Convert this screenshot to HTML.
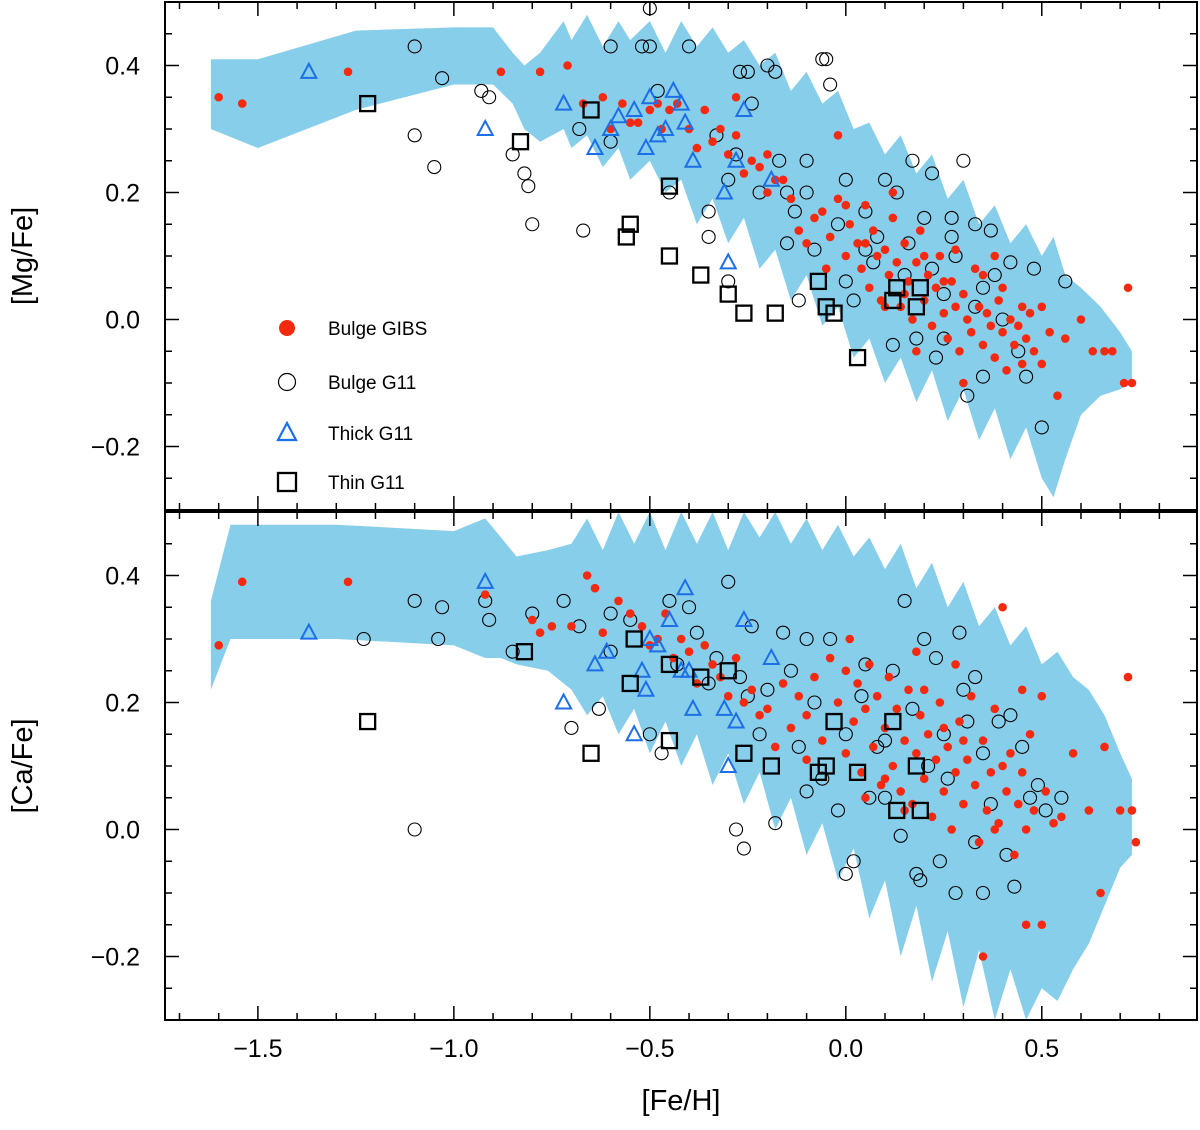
<!DOCTYPE html>
<html><head><meta charset="utf-8"><style>
body{margin:0;background:#fff}
svg{display:block;font-family:"Liberation Sans",sans-serif}
</style></head><body>
<svg id="chart" width="1200" height="1130" viewBox="0 0 1200 1130"></svg>
<script>
// ---- data ----
const xTicks=[-1.5,-1.0,-0.5,0.0,0.5];
const xTickLabels=["\u22121.5","\u22121.0","\u22120.5","0.0","0.5"];
const yTicks=[-0.2,0.0,0.2,0.4];
const yTickLabels=["\u22120.2","0.0","0.2","0.4"];

const bandTopX=[-1.62,-1.5,-1.25,-1.0,-0.9,-0.85,-0.82,-0.78,-0.72,-0.7,-0.66,-0.62,-0.58,-0.55,-0.5,-0.46,-0.42,-0.38,-0.34,-0.3,-0.26,-0.22,-0.18,-0.14,-0.1,-0.06,-0.02,0.02,0.06,0.1,0.14,0.18,0.22,0.26,0.3,0.34,0.38,0.42,0.46,0.5,0.53,0.56,0.6,0.65,0.7,0.73];
const bandTopHi=[0.41,0.41,0.455,0.46,0.46,0.42,0.40,0.42,0.47,0.44,0.48,0.43,0.47,0.44,0.47,0.42,0.47,0.43,0.46,0.42,0.44,0.40,0.42,0.36,0.39,0.34,0.36,0.30,0.31,0.26,0.29,0.23,0.26,0.19,0.22,0.15,0.18,0.12,0.15,0.10,0.13,0.07,0.05,0.02,-0.02,-0.05];
const bandTopLo=[0.30,0.27,0.33,0.37,0.37,0.34,0.30,0.28,0.30,0.27,0.29,0.24,0.27,0.22,0.25,0.20,0.22,0.15,0.19,0.12,0.16,0.08,0.11,0.03,0.07,-0.01,0.02,-0.06,-0.03,-0.10,-0.06,-0.13,-0.08,-0.16,-0.11,-0.19,-0.14,-0.22,-0.17,-0.25,-0.28,-0.22,-0.15,-0.12,-0.11,-0.10];

const bandBotX=[-1.62,-1.57,-1.3,-1.0,-0.92,-0.88,-0.84,-0.76,-0.7,-0.66,-0.62,-0.58,-0.54,-0.5,-0.46,-0.42,-0.38,-0.34,-0.3,-0.26,-0.22,-0.18,-0.14,-0.1,-0.06,-0.02,0.02,0.06,0.1,0.14,0.18,0.22,0.26,0.3,0.34,0.38,0.42,0.46,0.5,0.54,0.58,0.62,0.66,0.7,0.73];
const bandBotHi=[0.36,0.48,0.48,0.47,0.49,0.46,0.43,0.44,0.45,0.49,0.44,0.50,0.45,0.50,0.44,0.50,0.45,0.50,0.44,0.50,0.46,0.50,0.45,0.49,0.44,0.48,0.43,0.46,0.41,0.45,0.38,0.42,0.35,0.39,0.32,0.35,0.29,0.32,0.26,0.28,0.24,0.22,0.18,0.12,0.08];
const bandBotLo=[0.22,0.30,0.30,0.29,0.27,0.27,0.26,0.25,0.22,0.18,0.21,0.15,0.19,0.12,0.17,0.10,0.15,0.07,0.12,0.04,0.09,0.00,0.05,-0.04,0.01,-0.08,-0.03,-0.14,-0.08,-0.20,-0.12,-0.24,-0.16,-0.28,-0.19,-0.30,-0.22,-0.30,-0.25,-0.27,-0.22,-0.18,-0.12,-0.06,-0.04];

const topRedX=[-1.6,-1.54,-1.27,-0.88,-0.78,-0.71,-0.67,-0.62,-0.57,-0.55,-0.53,-0.50,-0.47,-0.45,-0.43,-0.40,-0.38,-0.36,-0.34,-0.32,-0.30,-0.28,-0.26,-0.24,-0.22,-0.20,-0.18,-0.16,-0.14,-0.12,-0.10,-0.08,-0.06,-0.04,-0.02,-0.02,0.00,0.01,0.03,0.04,0.05,0.06,0.07,0.08,0.09,0.10,0.11,0.12,0.13,0.14,0.15,0.16,0.17,0.18,0.19,0.20,0.21,0.22,0.23,0.24,0.25,0.26,0.27,0.28,0.29,0.30,0.31,0.32,0.33,0.34,0.35,0.36,0.37,0.38,0.39,0.40,0.41,0.42,0.43,0.44,0.45,0.46,0.47,0.48,0.50,0.52,0.54,0.56,0.60,0.63,0.66,0.68,0.72,0.73,0.71,0.15,0.20,0.10,0.05,0.25,-0.05,0.00,0.35,0.30,0.40,0.45,-0.20,-0.28,-0.48,-0.60,0.12,0.18,0.28,0.50,0.38];
const topRedY=[0.35,0.34,0.39,0.39,0.39,0.40,0.34,0.35,0.34,0.31,0.31,0.33,0.30,0.33,0.34,0.30,0.27,0.33,0.28,0.30,0.26,0.29,0.23,0.25,0.24,0.20,0.22,0.22,0.19,0.14,0.12,0.16,0.17,0.13,0.29,0.19,0.10,0.15,0.12,0.08,0.18,0.05,0.14,0.10,0.03,0.11,0.07,0.16,0.09,0.02,0.12,0.06,0.00,0.09,0.14,0.03,0.07,-0.01,0.05,0.10,0.01,-0.03,0.06,0.02,-0.05,0.04,0.00,-0.02,0.08,0.02,-0.04,0.01,-0.01,-0.06,0.03,-0.02,-0.08,0.00,-0.04,-0.01,-0.07,-0.03,0.01,-0.05,-0.07,-0.02,-0.12,-0.03,0.00,-0.05,-0.05,-0.05,0.05,-0.10,-0.10,0.04,0.10,0.02,0.12,0.06,0.08,0.18,0.07,-0.10,0.05,0.02,0.26,0.35,0.34,0.30,0.20,-0.05,0.11,0.02,0.10];
const topCircX=[-1.1,-1.1,-1.05,-1.03,-0.93,-0.91,-0.85,-0.82,-0.81,-0.80,-0.67,-0.68,-0.60,-0.52,-0.50,-0.50,-0.48,-0.45,-0.40,-0.35,-0.33,-0.30,-0.28,-0.27,-0.25,-0.24,-0.22,-0.20,-0.18,-0.17,-0.15,-0.13,-0.12,-0.10,-0.08,-0.06,-0.05,-0.04,-0.02,0.0,0.02,0.05,0.07,0.08,0.10,0.12,0.13,0.15,0.17,0.18,0.20,0.22,0.23,0.25,0.27,0.28,0.30,0.31,0.33,0.35,0.37,0.38,0.40,0.42,0.44,0.46,0.48,0.50,0.56,0.22,0.27,0.33,-0.35,-0.30,-0.10,0.05,0.16,0.35,-0.60,-0.15,0.25,0.00];
const topCircY=[0.43,0.29,0.24,0.38,0.36,0.35,0.26,0.23,0.21,0.15,0.14,0.30,0.43,0.43,0.43,0.49,0.36,0.20,0.43,0.13,0.29,0.06,0.26,0.39,0.39,0.34,0.20,0.40,0.39,0.25,0.12,0.17,0.03,0.20,0.11,0.41,0.41,0.37,0.15,0.22,0.03,0.17,0.09,0.13,0.22,-0.04,0.20,0.07,0.25,-0.03,0.16,0.08,-0.06,0.04,0.16,0.10,0.25,-0.12,0.02,-0.09,0.14,0.07,0.00,0.09,-0.05,-0.09,0.08,-0.17,0.06,0.23,0.13,0.15,0.17,0.22,0.25,0.11,0.12,0.05,0.28,0.20,-0.03,0.06];
const topTriX=[-1.37,-0.92,-0.72,-0.64,-0.60,-0.58,-0.54,-0.51,-0.50,-0.48,-0.44,-0.42,-0.41,-0.39,-0.31,-0.30,-0.28,-0.26,-0.19,-0.46];
const topTriY=[0.39,0.30,0.34,0.27,0.30,0.32,0.33,0.27,0.35,0.29,0.36,0.34,0.31,0.25,0.20,0.09,0.25,0.33,0.22,0.30];
const topSqX=[-1.22,-0.83,-0.65,-0.55,-0.56,-0.45,-0.45,-0.37,-0.30,-0.26,-0.18,-0.07,-0.05,-0.03,0.03,0.12,0.13,0.18,0.19];
const topSqY=[0.34,0.28,0.33,0.15,0.13,0.21,0.10,0.07,0.04,0.01,0.01,0.06,0.02,0.01,-0.06,0.03,0.05,0.02,0.05];

const botRedX=[-1.6,-1.54,-1.27,-0.92,-0.80,-0.78,-0.75,-0.70,-0.66,-0.64,-0.62,-0.58,-0.55,-0.52,-0.50,-0.48,-0.46,-0.44,-0.42,-0.40,-0.38,-0.36,-0.34,-0.32,-0.30,-0.28,-0.26,-0.24,-0.22,-0.20,-0.18,-0.16,-0.14,-0.12,-0.10,-0.08,-0.06,-0.04,-0.02,0.00,0.01,0.02,0.03,0.04,0.05,0.06,0.07,0.08,0.09,0.10,0.11,0.12,0.13,0.14,0.15,0.16,0.17,0.18,0.19,0.20,0.21,0.22,0.23,0.24,0.25,0.26,0.27,0.28,0.29,0.30,0.31,0.32,0.33,0.34,0.35,0.36,0.37,0.38,0.39,0.40,0.41,0.42,0.43,0.44,0.45,0.46,0.47,0.48,0.50,0.51,0.53,0.55,0.58,0.62,0.65,0.66,0.70,0.72,0.73,0.74,0.35,0.46,0.50,0.10,0.20,0.25,0.15,0.30,0.40,0.05,-0.10,0.00,0.45,0.38,0.28,0.18];
const botRedY=[0.29,0.39,0.39,0.37,0.33,0.31,0.32,0.32,0.40,0.38,0.31,0.36,0.34,0.32,0.29,0.30,0.34,0.27,0.30,0.28,0.23,0.29,0.26,0.24,0.21,0.27,0.20,0.22,0.18,0.19,0.13,0.23,0.16,0.21,0.11,0.24,0.14,0.27,0.20,0.12,0.30,0.17,0.23,0.09,0.19,0.26,0.13,0.21,0.07,0.16,0.24,0.10,0.19,0.06,0.14,0.22,0.04,0.12,0.18,0.08,0.15,0.02,0.11,0.20,0.06,0.13,0.00,0.09,0.17,0.04,0.11,0.21,0.07,-0.02,0.14,0.03,0.09,0.19,0.01,0.35,0.06,0.12,-0.04,0.04,0.09,0.00,0.15,0.03,0.21,0.06,0.01,0.02,0.12,0.03,-0.10,0.13,0.03,0.24,0.03,-0.02,-0.20,-0.15,-0.15,0.08,0.22,0.16,0.03,0.14,0.10,0.05,0.18,0.25,0.22,0.00,0.26,0.28];
const botCircX=[-1.23,-1.10,-1.10,-1.04,-1.03,-0.92,-0.91,-0.85,-0.80,-0.72,-0.70,-0.68,-0.63,-0.60,-0.55,-0.50,-0.47,-0.45,-0.43,-0.40,-0.38,-0.35,-0.33,-0.30,-0.28,-0.27,-0.26,-0.24,-0.22,-0.20,-0.18,-0.16,-0.14,-0.12,-0.10,-0.08,-0.06,-0.04,-0.02,0.00,0.02,0.04,0.06,0.08,0.10,0.12,0.14,0.15,0.17,0.18,0.19,0.21,0.23,0.24,0.26,0.28,0.29,0.31,0.33,0.35,0.37,0.39,0.41,0.43,0.45,0.47,0.49,0.51,0.55,0.30,0.20,0.05,-0.10,0.35,0.42,-0.60,-0.25,0.10,0.25,0.00,0.33];
const botCircY=[0.30,0.36,0.00,0.30,0.35,0.36,0.33,0.28,0.34,0.36,0.16,0.32,0.19,0.28,0.33,0.15,0.12,0.36,0.26,0.35,0.31,0.23,0.27,0.39,0.00,0.24,-0.03,0.32,0.15,0.22,0.01,0.31,0.25,0.13,0.06,0.20,0.08,0.30,0.03,0.15,-0.05,0.21,0.05,0.13,0.05,0.25,-0.01,0.36,0.19,-0.07,-0.08,0.10,0.27,-0.05,0.08,-0.10,0.31,0.17,-0.02,-0.10,0.04,0.17,-0.04,-0.09,0.13,0.05,0.07,0.03,0.05,0.22,0.30,0.26,0.30,0.12,0.18,0.34,0.21,0.14,0.15,-0.07,0.24];
const botTriX=[-1.37,-0.92,-0.72,-0.64,-0.61,-0.54,-0.52,-0.51,-0.50,-0.48,-0.45,-0.42,-0.41,-0.39,-0.31,-0.30,-0.28,-0.26,-0.19,-0.40];
const botTriY=[0.31,0.39,0.20,0.26,0.28,0.15,0.25,0.22,0.30,0.29,0.33,0.25,0.38,0.19,0.19,0.10,0.17,0.33,0.27,0.25];
const botSqX=[-1.22,-0.82,-0.65,-0.55,-0.54,-0.45,-0.45,-0.37,-0.30,-0.26,-0.19,-0.07,-0.05,-0.03,0.03,0.12,0.13,0.18,0.19];
const botSqY=[0.17,0.28,0.12,0.23,0.30,0.26,0.14,0.24,0.25,0.12,0.10,0.09,0.10,0.17,0.09,0.17,0.03,0.10,0.03];

// ---- layout ----
const NS="http://www.w3.org/2000/svg";
const svg=document.getElementById('chart');
const X0=165,X1=1197,XMIN=-1.737,XMAX=0.896;
const sx=v=>X0+(v-XMIN)/(XMAX-XMIN)*(X1-X0);
function mk(tag,attrs,parent){const e=document.createElementNS(NS,tag);for(const k in attrs)e.setAttribute(k,attrs[k]);(parent||svg).appendChild(e);return e;}

function panel(name,top,bot,bx,bhi,blo,rx,ry,cx,cy,tx,ty,qx,qy,ylabel,showX){
  const sy=v=>top+(0.5-v)/0.8*(bot-top);
  const g=mk('g',{});
  
  
  const clip=mk('clipPath',{id:'clip-'+name},g);
  mk('rect',{x:X0,y:top,width:X1-X0,height:bot-top},clip);
  const pg=mk('g',{'clip-path':'url(#clip-'+name+')'},g);
  let d='';
  for(let i=0;i<bx.length;i++)d+=(i?'L':'M')+sx(bx[i]).toFixed(1)+','+sy(bhi[i]).toFixed(1);
  for(let i=bx.length-1;i>=0;i--)d+='L'+sx(bx[i]).toFixed(1)+','+sy(blo[i]).toFixed(1);
  const band=mk('path',{d:d+'Z',fill:'#87ceeb'},pg);
  
  
  for(let i=0;i<cx.length;i++){
    const c=mk('circle',{cx:sx(cx[i]),cy:sy(cy[i]),r:6.5,fill:'none',stroke:'#000','stroke-width':1.1},pg);
    
    
  }
  for(let i=0;i<rx.length;i++){
    const c=mk('circle',{cx:sx(rx[i]),cy:sy(ry[i]),r:4.3,fill:'#f5290f'},pg);
    
    
  }
  for(let i=0;i<tx.length;i++){
    const x=sx(tx[i]),y=sy(ty[i]);
    const t=mk('polygon',{points:`${x},${y-8} ${x-7.5},${y+6} ${x+7.5},${y+6}`,fill:'none',stroke:'#1c6fe6','stroke-width':2},pg);
    
    
  }
  for(let i=0;i<qx.length;i++){
    const x=sx(qx[i]),y=sy(qy[i]);
    const s=mk('rect',{x:x-7.5,y:y-7.5,width:15,height:15,fill:'none',stroke:'#000','stroke-width':2.3},pg);
    
    
  }
  const frame=mk('rect',{x:X0,y:top,width:X1-X0,height:bot-top,fill:'none',stroke:'#000','stroke-width':2},g);
  
  
  // ticks
  for(let v=-1.7;v<=0.85;v+=0.1){
    const x=sx(v),maj=Math.abs(Math.round(v*10)%5)===0;const L=maj?14:7;
    mk('line',{x1:x,x2:x,y1:bot,y2:bot-L,stroke:'#000','stroke-width':1.5},g);
    mk('line',{x1:x,x2:x,y1:top,y2:top+L,stroke:'#000','stroke-width':1.5},g);
  }
  for(let k=-6;k<=10;k++){
    const v=k*0.05,y=sy(v),maj=k%4===0;const L=maj?14:7;
    mk('line',{x1:X0,x2:X0+L,y1:y,y2:y,stroke:'#000','stroke-width':1.5},g);
    mk('line',{x1:X1,x2:X1-L,y1:y,y2:y,stroke:'#000','stroke-width':1.5},g);
  }
  yTicks.forEach((v,i)=>{
    const t=mk('text',{x:140,y:sy(v)+9,'text-anchor':'end','font-size':25},g);
    t.textContent=yTickLabels[i];
    
    
  });
  const yt=mk('text',{x:0,y:0,'text-anchor':'middle','font-size':29,transform:`translate(32,${(top+bot)/2}) rotate(-90)`},g);
  yt.textContent=ylabel;
  
  
  if(showX){
    xTicks.forEach((v,i)=>{
      const t=mk('text',{x:sx(v),y:bot+37,'text-anchor':'middle','font-size':25},g);
      t.textContent=xTickLabels[i];
      
      
    });
  }
  return sy;
}
panel('mg',2,510,bandTopX,bandTopHi,bandTopLo,topRedX,topRedY,topCircX,topCircY,topTriX,topTriY,topSqX,topSqY,'[Mg/Fe]',false);
panel('ca',512,1020,bandBotX,bandBotHi,bandBotLo,botRedX,botRedY,botCircX,botCircY,botTriX,botTriY,botSqX,botSqY,'[Ca/Fe]',true);
const xt=mk('text',{x:681,y:1110,'text-anchor':'middle','font-size':29});
xt.textContent='[Fe/H]';



// legend
const leg=mk('g',{});


const labels=['Bulge GIBS','Bulge G11','Thick G11','Thin G11'];
const ly=[328,382,433,482];
mk('circle',{cx:287,cy:ly[0],r:8,fill:'#f5290f'},leg);
mk('circle',{cx:287,cy:ly[1],r:8.5,fill:'none',stroke:'#000','stroke-width':1.2},leg);
mk('polygon',{points:`287,${ly[2]-10} 278,${ly[2]+7} 296,${ly[2]+7}`,fill:'none',stroke:'#1c6fe6','stroke-width':2.2},leg);
mk('rect',{x:278,y:ly[3]-9,width:18,height:18,fill:'none',stroke:'#000','stroke-width':2.3},leg);
labels.forEach((s,i)=>{
  const t=mk('text',{x:328,y:ly[i]+7,'font-size':19},leg);
  t.textContent=s;
  
  
});
</script>
</body></html>
